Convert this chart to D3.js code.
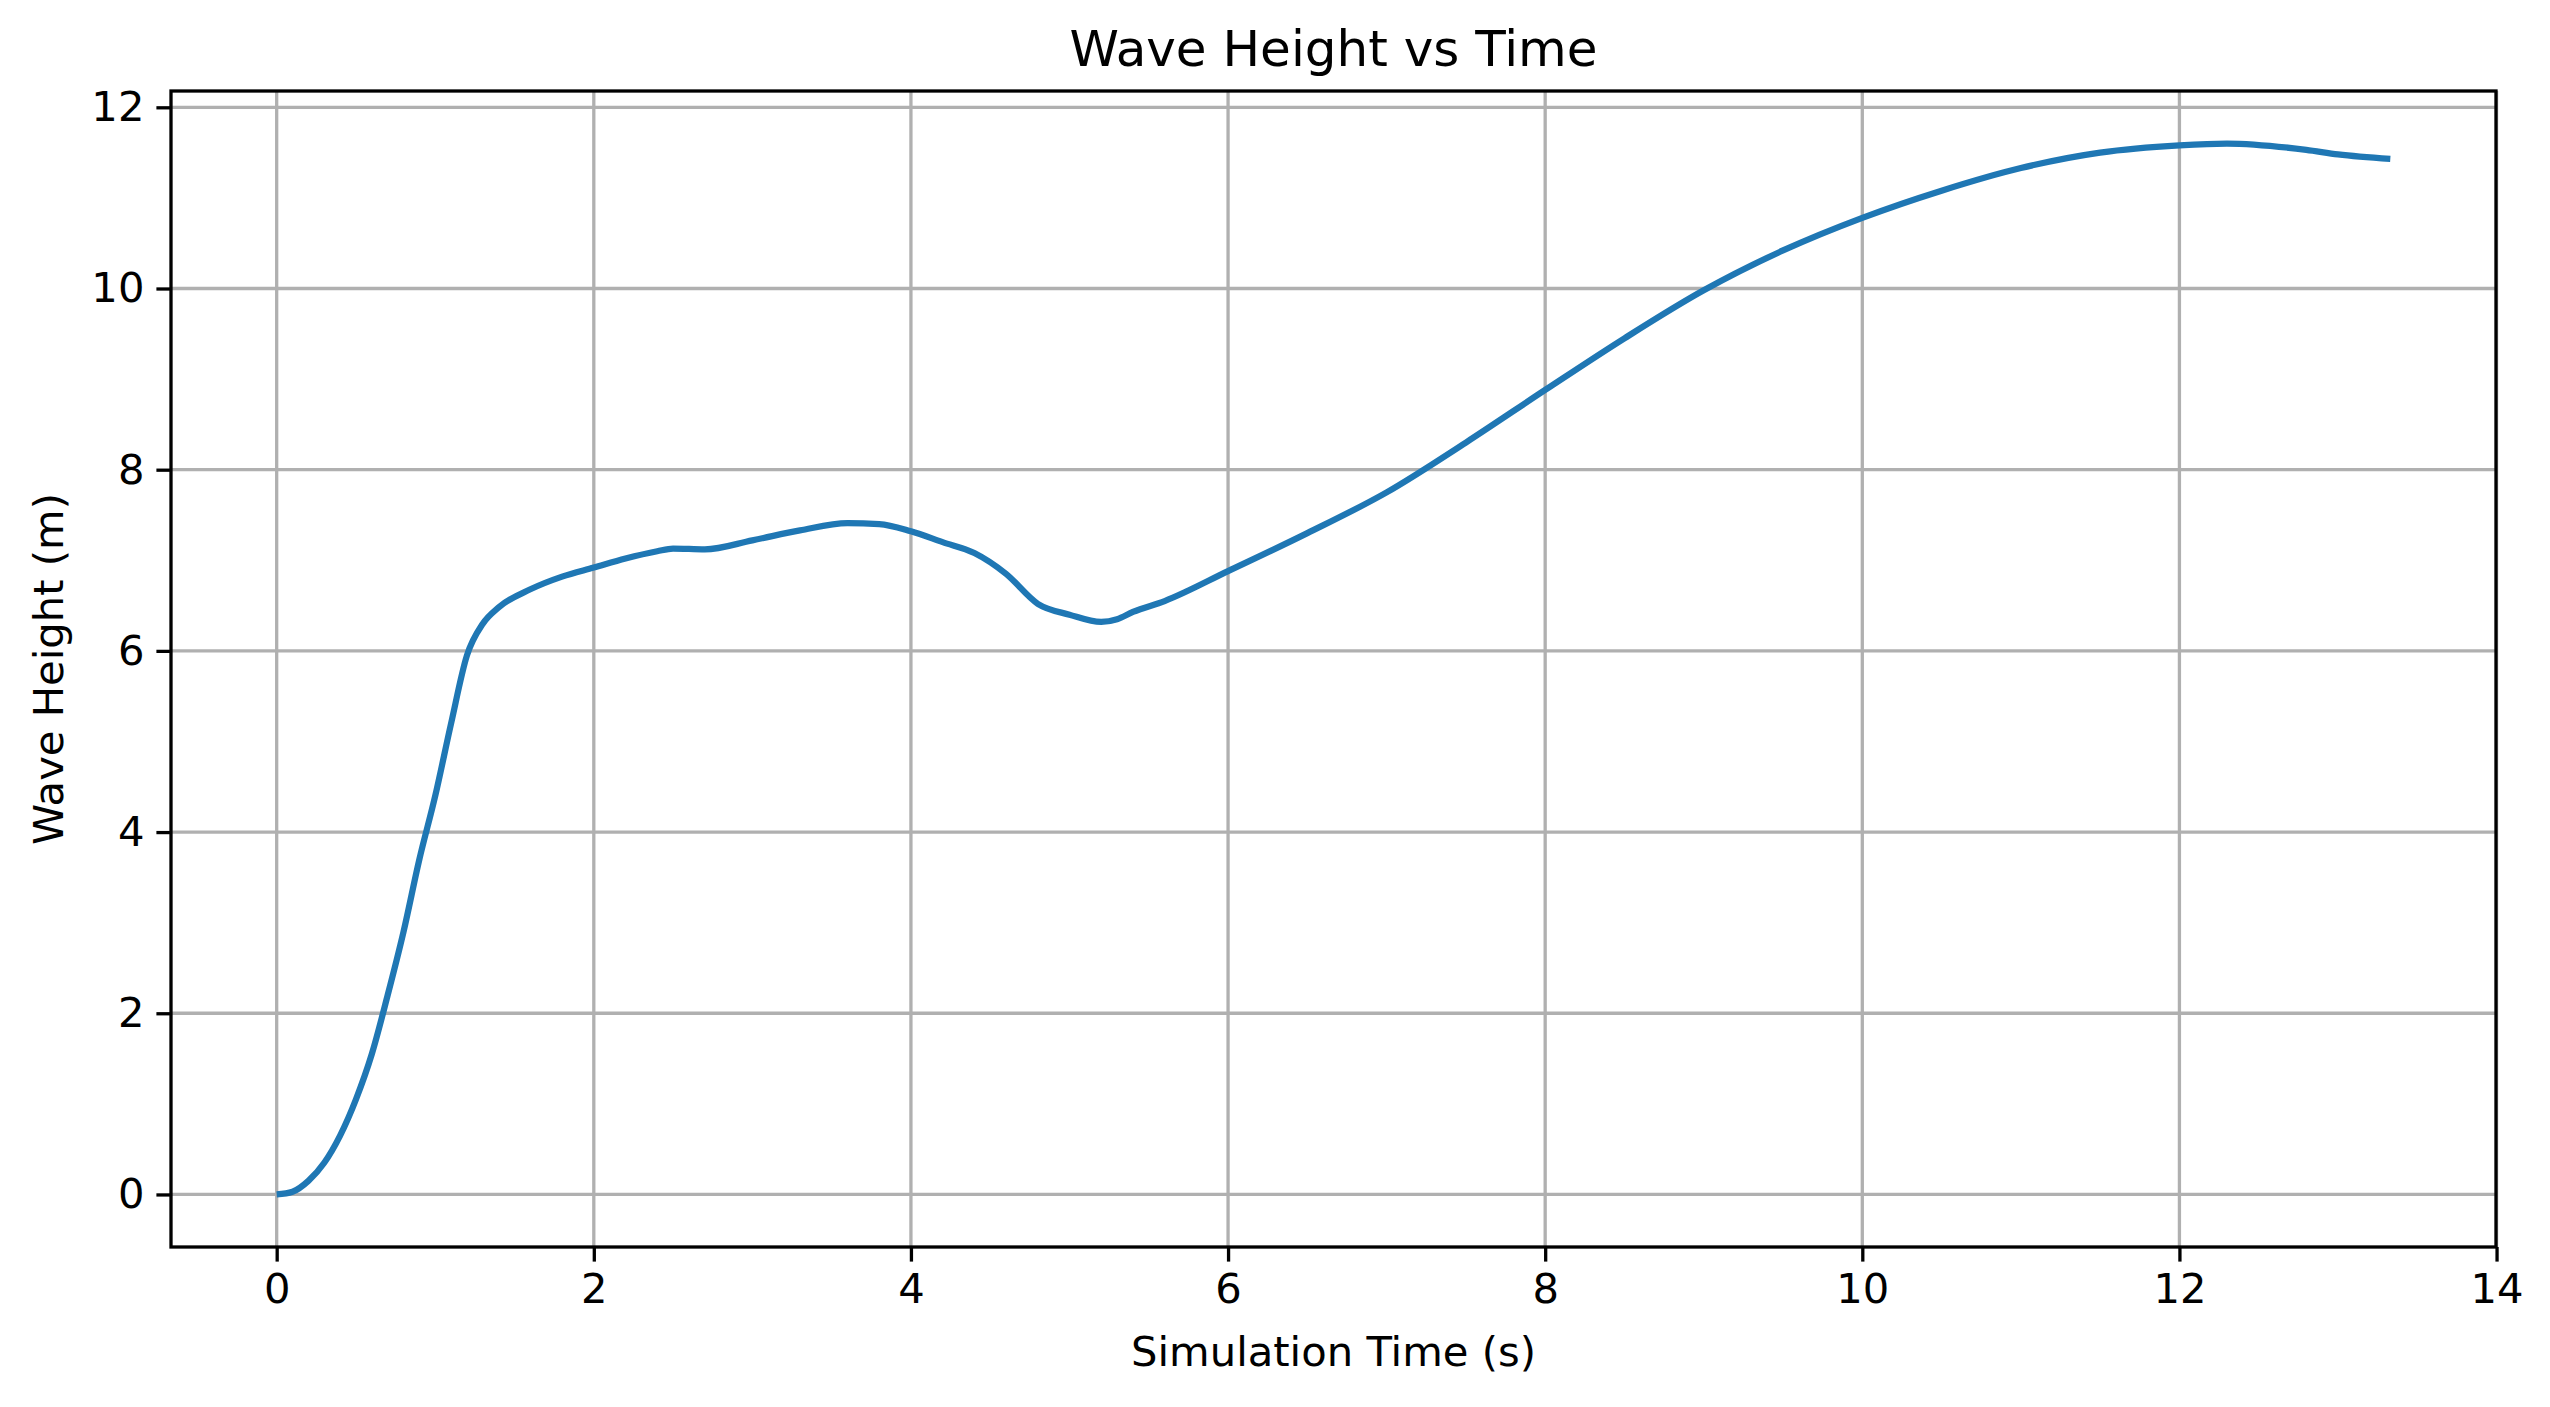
<!DOCTYPE html>
<html>
<head>
<meta charset="utf-8">
<script src="https://cdn.jsdelivr.net/npm/d3@7"></script>
<style>
  body { margin: 0; background: #fff; }
  text { font-family: "DejaVu Sans", sans-serif; }
</style>
</head>
<body>
<script>
// Values.
var times = [0, 0.1, 0.2, 0.3, 0.4, 0.5, 0.6, 0.7, 0.8, 0.9, 1.0, 1.1, 1.2, 1.3, 1.4, 1.6, 1.8,
             2.0, 2.2, 2.4, 2.5, 2.7, 3.0, 3.3, 3.6, 3.8, 4.0, 4.2, 4.4, 4.6, 4.8, 5.0, 5.2,
             5.3, 5.4, 5.6, 6.0, 6.5, 7.0, 7.5, 8.0, 8.5, 9.0, 9.5, 10.0, 10.5, 11.0, 11.5,
             12.0, 12.3, 12.8, 13.0, 13.33];
var heights = [0, 0.03, 0.15, 0.35, 0.65, 1.05, 1.55, 2.2, 2.9, 3.7, 4.4, 5.2, 5.95, 6.3, 6.48,
               6.68, 6.82, 6.92, 7.02, 7.1, 7.13, 7.12, 7.22, 7.33, 7.41, 7.4, 7.32, 7.2, 7.08,
               6.85, 6.52, 6.4, 6.32, 6.35, 6.43, 6.55, 6.88, 7.3, 7.75, 8.3, 8.88, 9.45, 9.98,
               10.42, 10.78, 11.08, 11.33, 11.5, 11.58, 11.6, 11.53, 11.48, 11.43];
var xTicks = [0, 2, 4, 6, 8, 10, 12, 14];
var yTicks = [0, 2, 4, 6, 8, 10, 12];

var data = times.map(function(t, i) { return {t: t, h: heights[i]}; });

var W = 2550, H = 1407;
var margin = {top: 91, right: 54, bottom: 160, left: 171},
    width = W - margin.left - margin.right,
    height = H - margin.top - margin.bottom;

var svg = d3.select("body").append("svg")
            .attr("width", W).attr("height", H);

var g = svg.append("g")
           .attr("transform", "translate(" + margin.left + "," + margin.top + ")");

var xScale = d3.scaleLinear().domain([-0.6665, 13.9965]).range([0, width]);
var yScale = d3.scaleLinear().domain([-0.58, 12.18]).range([height, 0]);

// Grid
g.selectAll(".gx").data(xTicks).enter().append("line")
 .attr("x1", function(d) { return xScale(d); }).attr("x2", function(d) { return xScale(d); })
 .attr("y1", 0).attr("y2", height)
 .attr("stroke", "#b0b0b0").attr("stroke-width", 3.3);
g.selectAll(".gy").data(yTicks).enter().append("line")
 .attr("y1", function(d) { return yScale(d); }).attr("y2", function(d) { return yScale(d); })
 .attr("x1", 0).attr("x2", width)
 .attr("stroke", "#b0b0b0").attr("stroke-width", 3.3);

// Line
var line = d3.line()
             .x(function(d) { return xScale(d.t); })
             .y(function(d) { return yScale(d.h); })
             .curve(d3.curveMonotoneX);
g.append("path").datum(data)
 .attr("d", line)
 .attr("fill", "none")
 .attr("stroke", "#1f77b4")
 .attr("stroke-width", 6.25);

// Axes
var xAxis = g.append("g").attr("transform", "translate(0," + height + ")")
             .call(d3.axisBottom(xScale).tickValues(xTicks).tickSize(14.6).tickPadding(12));
var yAxis = g.append("g")
             .call(d3.axisLeft(yScale).tickValues(yTicks).tickSize(14.6).tickPadding(12));
[xAxis, yAxis].forEach(function(a) {
  a.select(".domain").remove();
  a.selectAll("line").attr("stroke", "#000").attr("stroke-width", 3.3);
  a.selectAll("text").attr("font-size", 41.7).attr("fill", "#000")
   .attr("font-family", "DejaVu Sans");
});

// Frame
g.append("rect").attr("width", width).attr("height", height)
 .attr("fill", "none").attr("stroke", "#000").attr("stroke-width", 3.3);

// Labels
svg.append("text").attr("x", margin.left + width / 2).attr("y", 66)
   .attr("text-anchor", "middle").attr("font-size", 50).text("Wave Height vs Time");
svg.append("text").attr("x", margin.left + width / 2).attr("y", 1366)
   .attr("text-anchor", "middle").attr("font-size", 41.7).text("Simulation Time (s)");
svg.append("text")
   .attr("transform", "translate(63," + (margin.top + height / 2) + ") rotate(-90)")
   .attr("text-anchor", "middle").attr("font-size", 41.7).text("Wave Height (m)");
</script>
</body>
</html>
